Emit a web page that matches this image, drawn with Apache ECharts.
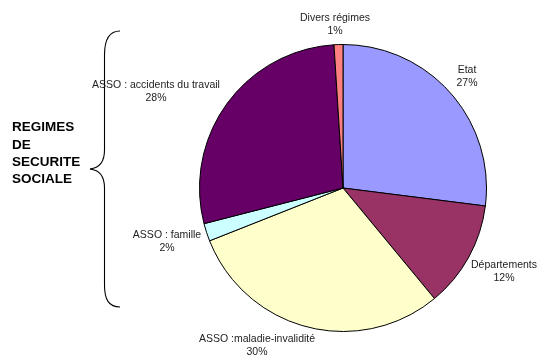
<!DOCTYPE html>
<html>
<head>
<meta charset="utf-8">
<script src="https://cdn.jsdelivr.net/npm/echarts@6/dist/echarts.min.js"></script>
<style>
  html, body { margin: 0; padding: 0; background: #fff; }
  #chart { width: 539px; height: 355px; }
</style>
</head>
<body>
<div id="chart"></div>
<script>
// Shares of social protection funding, in percent
const categories = [
  'Etat',
  'Départements',
  'ASSO :maladie-invalidité',
  'ASSO : famille',
  'ASSO : accidents du travail',
  'Divers régimes'
];
const shares = [27, 12, 30, 2, 28, 1];
const sliceColors = ['#9999FF', '#993366', '#FFFFCC', '#CCFFFF', '#660066', '#FF8080'];

// Label centres placed around the pie (layout only)
const labelSpots = [
  [467, 77],
  [504, 272],
  [257, 346],
  [167, 242],
  [156, 92],
  [335, 25]
];

// Curly brace grouping the social security schemes
const braceStyle = { stroke: '#000', lineWidth: 1.1, fill: 'none' };
const braceParts = [
  { type: 'bezierCurve', shape: { x1: 120, y1: 31, cpx1: 109, cpy1: 31, cpx2: 104.5, cpy2: 39, x2: 104.5, y2: 55 } },
  { type: 'line', shape: { x1: 104.5, y1: 55, x2: 104.5, y2: 150 } },
  { type: 'bezierCurve', shape: { x1: 104.5, y1: 150, cpx1: 104.5, cpy1: 162, cpx2: 99, cpy2: 168, x2: 90, y2: 169 } },
  { type: 'bezierCurve', shape: { x1: 90, y1: 169, cpx1: 99, cpy1: 170, cpx2: 104.5, cpy2: 176, x2: 104.5, y2: 188 } },
  { type: 'line', shape: { x1: 104.5, y1: 188, x2: 104.5, y2: 285 } },
  { type: 'bezierCurve', shape: { x1: 104.5, y1: 285, cpx1: 104.5, cpy1: 300, cpx2: 109, cpy2: 307, x2: 120, y2: 307 } }
].map(p => Object.assign(p, { style: braceStyle, silent: true }));

const chart = echarts.init(document.getElementById('chart'), null, { renderer: 'canvas' });

chart.setOption({
  backgroundColor: '#ffffff',
  animation: false,
  title: {
    text: 'REGIMES\nDE\nSECURITE\nSOCIALE',
    left: 12,
    top: 119,
    padding: 0,
    textStyle: {
      fontFamily: 'Liberation Sans, Arial, sans-serif',
      fontSize: 13.5,
      fontWeight: 'bold',
      color: '#000',
      lineHeight: 17.3
    }
  },
  graphic: braceParts,
  series: [{
    type: 'pie',
    center: [343, 188],
    radius: 143.5,
    startAngle: 90,
    clockwise: true,
    avoidLabelOverlap: false,
    itemStyle: { borderColor: '#000', borderWidth: 1 },
    label: {
      show: true,
      position: 'outside',
      formatter: p => p.name + '\n' + p.value + '%',
      fontFamily: 'Liberation Sans, Arial, sans-serif',
      fontSize: 10.5,
      lineHeight: 13,
      color: '#222',
      align: 'center'
    },
    labelLine: { show: false },
    labelLayout: p => ({
      x: labelSpots[p.dataIndex][0],
      y: labelSpots[p.dataIndex][1],
      align: 'center',
      verticalAlign: 'middle'
    }),
    emphasis: { disabled: true },
    data: categories.map((name, i) => ({
      name: name,
      value: shares[i],
      itemStyle: { color: sliceColors[i] }
    }))
  }]
});
</script>
</body>
</html>
